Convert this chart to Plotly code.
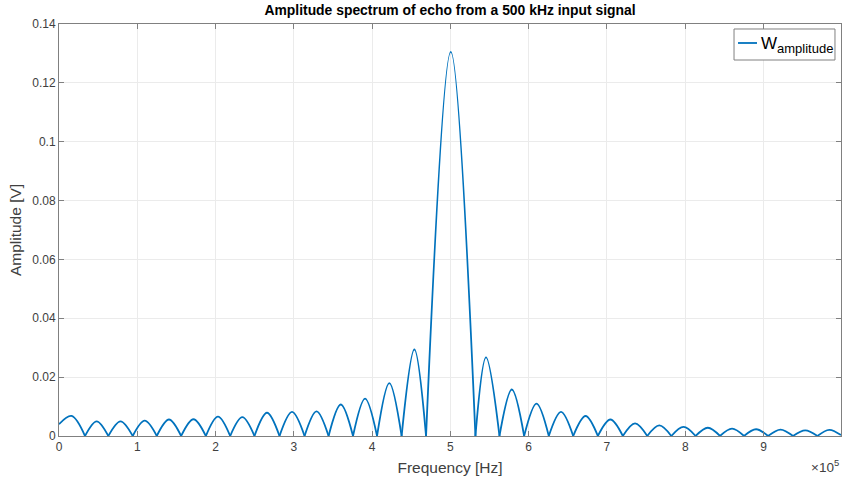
import plotly.graph_objects as go

# Frequencies in units of 1e5 Hz (the axis multiplier)
start_freq = 0.0
start_amp = 0.0040

# Spectral nulls between lobes
null_freq = [0.332, 0.630, 0.942, 1.249, 1.560, 1.876, 2.187, 2.497, 2.817, 3.137,
             3.444, 3.756, 4.063, 4.377, 4.689, 5.320, 5.627, 5.942, 6.257, 6.569,
             6.884, 7.203, 7.515, 7.822, 8.133, 8.444, 8.751, 9.058, 9.377, 9.689, 9.990]
null_amp = [0.0] * 30 + [0.0003]

# Lobe maxima (one per lobe, main lobe at 500 kHz)
peak_freq = [0.160, 0.481, 0.786, 1.095, 1.405, 1.718, 2.031, 2.342, 2.657, 2.977,
             3.290, 3.600, 3.910, 4.220, 4.540, 5.005, 5.455, 5.785, 6.100, 6.413,
             6.727, 7.044, 7.359, 7.669, 7.978, 8.289, 8.598, 8.905, 9.218, 9.533, 9.840]
peak_amp = [0.0068, 0.0050, 0.0050, 0.0052, 0.0056, 0.0057, 0.0066, 0.0064, 0.0079, 0.0082,
            0.0084, 0.0107, 0.0127, 0.0180, 0.0294, 0.1305, 0.0267, 0.0158, 0.0110, 0.0082,
            0.0068, 0.0056, 0.0043, 0.0036, 0.0031, 0.0028, 0.0025, 0.0023, 0.0022, 0.0019, 0.0021]

x_ticks = [0, 1, 2, 3, 4, 5, 6, 7, 8, 9]
y_ticks = [0, 0.02, 0.04, 0.06, 0.08, 0.1, 0.12, 0.14]
y_ticktext = ["0", "0.02", "0.04", "0.06", "0.08", "0.1", "0.12", "0.14"]

SCALE = 1e5
LINE_COLOR = "#0072BD"
FONT = "Liberation Sans, Arial"

# Each lobe is its own smoothed segment so the nulls keep their sharp cusps
edge_f = [start_freq] + null_freq
edge_a = [start_amp] + null_amp
xs, ys = [], []
for i in range(len(peak_freq)):
    xs += [edge_f[i] * SCALE, peak_freq[i] * SCALE, edge_f[i + 1] * SCALE, None]
    ys += [edge_a[i], peak_amp[i], edge_a[i + 1], None]

fig = go.Figure()
fig.add_trace(go.Scatter(
    x=xs, y=ys, mode="lines",
    line=dict(color=LINE_COLOR, width=1.8, shape="spline", smoothing=1),
    connectgaps=False, showlegend=False,
    name="W_amplitude",
))

axis_common = dict(
    showline=True, linecolor="#808080", linewidth=1, mirror="ticks",
    ticks="inside", ticklen=5, tickcolor="#808080",
    showgrid=True, gridcolor="#ebebeb", gridwidth=1,
    zeroline=False,
    tickfont=dict(family=FONT, size=12, color="#404040"),
)

fig.update_xaxes(
    range=[0, 9.99 * SCALE],
    tickvals=[t * SCALE for t in x_ticks], ticktext=[str(t) for t in x_ticks],
    title=dict(text="Frequency [Hz]", standoff=8,
               font=dict(family=FONT, size=15.5, color="#404040")),
    **axis_common,
)
fig.update_yaxes(
    range=[0, 0.14],
    tickvals=y_ticks, ticktext=y_ticktext,
    title=dict(text="Amplitude [V]", standoff=6,
               font=dict(family=FONT, size=15.5, color="#404040")),
    **axis_common,
)

# Exponent of the x-axis multiplier
fig.add_annotation(
    text="×10<sup>5</sup>", xref="paper", yref="paper", x=1.0, y=-0.073,
    xanchor="right", yanchor="middle", showarrow=False,
    font=dict(family=FONT, size=13.5, color="#404040"),
)

# Compact legend box in the upper-right corner
fig.add_shape(type="rect", xref="paper", yref="paper",
              x0=0.8632, x1=0.9923, y0=0.9126, y1=0.9879,
              line=dict(color="#808080", width=1), fillcolor="white", layer="above")
fig.add_shape(type="line", xref="paper", yref="paper",
              x0=0.8683, x1=0.8926, y0=0.9539, y1=0.9539,
              line=dict(color=LINE_COLOR, width=1.8), layer="above")
fig.add_annotation(
    text='W<sub><span style="font-size:13px">amplitude</span></sub>',
    xref="paper", yref="paper", x=0.8951, y=0.9500,
    xanchor="left", yanchor="middle", showarrow=False,
    font=dict(family=FONT, size=17, color="#000000"),
)

fig.update_layout(
    width=842, height=481,
    margin=dict(l=59, r=1, t=24, b=45),
    paper_bgcolor="white", plot_bgcolor="white",
    title=dict(text="<b>Amplitude spectrum of echo from a 500 kHz input signal</b>",
               x=0.5345, xanchor="center", y=1 - 10 / 481, yanchor="middle",
               font=dict(family=FONT, size=13.9, color="#000000")),
)

fig.write_html("out.html")
